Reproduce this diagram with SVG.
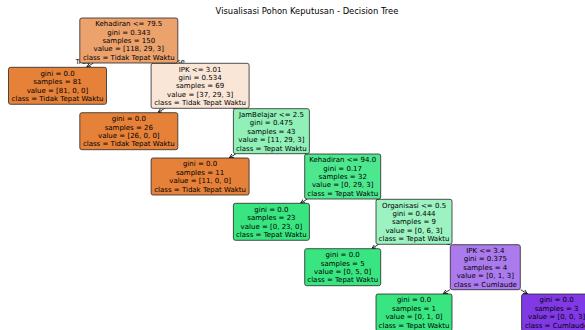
<svg xmlns="http://www.w3.org/2000/svg" width="585" height="330" viewBox="0 0 585 330">
<defs>
<marker id="ah" viewBox="0 0 10 10" refX="10" refY="5" markerWidth="4.5" markerHeight="4.5" markerUnits="userSpaceOnUse" orient="auto">
<path d="M0,0.5 L10,5 L0,9.5" fill="none" stroke="#000" stroke-width="1.8"/>
</marker>
<style>
text{font-family:"DejaVu Sans","Liberation Sans",sans-serif;fill:#000}
.t{font-size:7px;text-anchor:middle}
.title{font-size:8.4px;text-anchor:middle}
.lbl{font-size:7px;text-anchor:middle}
rect.n{stroke:#262626;stroke-width:0.8}
.o{fill:#e58139}.g{fill:#39e581}.p{fill:#8139e5}
.edges line{stroke:#000;stroke-width:0.8;marker-end:url(#ah)}
</style>
</defs>
<rect width="585" height="330" fill="#fff"/>
<text class="title" x="307" y="14">Visualisasi Pohon Keputusan - Decision Tree</text>
<g id="edge-labels">
<text class="lbl" x="83" y="64.3">True</text>
<text class="lbl" x="176.1" y="63.6">False</text>
</g>
<g class="edges" id="connectors">
<line x1="93.4" y1="63" x2="86.6" y2="67.3"/>
<line x1="164.2" y1="63" x2="164.7" y2="63.4"/>
<line x1="164.7" y1="108.3" x2="157.9" y2="112.7"/>
<line x1="235.5" y1="108.3" x2="236" y2="108.7"/>
<line x1="236" y1="153.7" x2="229.2" y2="158"/>
<line x1="306.8" y1="153.7" x2="307.3" y2="154.1"/>
<line x1="307.3" y1="199" x2="300.5" y2="203.3"/>
<line x1="378.1" y1="199" x2="378.6" y2="199.4"/>
<line x1="378.6" y1="244.3" x2="371.8" y2="248.7"/>
<line x1="449.4" y1="244.3" x2="449.9" y2="244.7"/>
<line x1="449.9" y1="289.7" x2="443.1" y2="294"/>
<line x1="520.7" y1="289.7" x2="527.5" y2="294"/>
</g>
<g id="node-12">
<rect class="n p" x="521.6" y="294" width="70" height="37" rx="2"/>
<text class="t"><tspan x="556.6" y="302.4">gini = 0.0</tspan><tspan x="556.6" y="310.8">samples = 3</tspan><tspan x="556.6" y="319.2">value = [0, 0, 3]</tspan><tspan x="556.6" y="327.6">class = Cumlaude</tspan></text>
</g>
<g id="node-11">
<rect class="n g" x="376" y="294" width="76" height="37" rx="2"/>
<text class="t"><tspan x="414" y="302.4">gini = 0.0</tspan><tspan x="414" y="310.8">samples = 1</tspan><tspan x="414" y="319.2">value = [0, 1, 0]</tspan><tspan x="414" y="327.6">class = Tepat Waktu</tspan></text>
</g>
<g id="node-10">
<rect class="n" fill="#ab7bee" x="450.3" y="244.7" width="70" height="45" rx="2"/>
<text class="t"><tspan x="485.3" y="252.9">IPK &lt;= 3.4</tspan><tspan x="485.3" y="261.3">gini = 0.375</tspan><tspan x="485.3" y="269.7">samples = 4</tspan><tspan x="485.3" y="278.1">value = [0, 1, 3]</tspan><tspan x="485.3" y="286.5">class = Cumlaude</tspan></text>
</g>
<g id="node-9">
<rect class="n g" x="304.7" y="248.7" width="76" height="37" rx="2"/>
<text class="t"><tspan x="342.7" y="257.1">gini = 0.0</tspan><tspan x="342.7" y="265.5">samples = 5</tspan><tspan x="342.7" y="273.9">value = [0, 5, 0]</tspan><tspan x="342.7" y="282.3">class = Tepat Waktu</tspan></text>
</g>
<g id="node-8">
<rect class="n" fill="#9cf2c0" x="376" y="199.3" width="76" height="45" rx="2"/>
<text class="t"><tspan x="414" y="207.5">Organisasi &lt;= 0.5</tspan><tspan x="414" y="215.9">gini = 0.444</tspan><tspan x="414" y="224.3">samples = 9</tspan><tspan x="414" y="232.7">value = [0, 6, 3]</tspan><tspan x="414" y="241.1">class = Tepat Waktu</tspan></text>
</g>
<g id="node-7">
<rect class="n g" x="233.4" y="203.3" width="76" height="37" rx="2"/>
<text class="t"><tspan x="271.4" y="211.7">gini = 0.0</tspan><tspan x="271.4" y="220.1">samples = 23</tspan><tspan x="271.4" y="228.5">value = [0, 23, 0]</tspan><tspan x="271.4" y="236.9">class = Tepat Waktu</tspan></text>
</g>
<g id="node-6">
<rect class="n" fill="#4de88e" x="304.7" y="154" width="76" height="45" rx="2"/>
<text class="t"><tspan x="342.7" y="162.2">Kehadiran &lt;= 94.0</tspan><tspan x="342.7" y="170.6">gini = 0.17</tspan><tspan x="342.7" y="179">samples = 32</tspan><tspan x="342.7" y="187.4">value = [0, 29, 3]</tspan><tspan x="342.7" y="195.8">class = Tepat Waktu</tspan></text>
</g>
<g id="node-5">
<rect class="n o" x="151.1" y="158" width="98" height="37" rx="2"/>
<text class="t"><tspan x="200.1" y="166.4">gini = 0.0</tspan><tspan x="200.1" y="174.8">samples = 11</tspan><tspan x="200.1" y="183.2">value = [11, 0, 0]</tspan><tspan x="200.1" y="191.6">class = Tidak Tepat Waktu</tspan></text>
</g>
<g id="node-4">
<rect class="n" fill="#90f0b8" x="233.4" y="108.7" width="76" height="45" rx="2"/>
<text class="t"><tspan x="271.4" y="116.9">JamBelajar &lt;= 2.5</tspan><tspan x="271.4" y="125.3">gini = 0.475</tspan><tspan x="271.4" y="133.7">samples = 43</tspan><tspan x="271.4" y="142.1">value = [11, 29, 3]</tspan><tspan x="271.4" y="150.5">class = Tepat Waktu</tspan></text>
</g>
<g id="node-3">
<rect class="n o" x="79.8" y="112.7" width="98" height="37" rx="2"/>
<text class="t"><tspan x="128.8" y="121.1">gini = 0.0</tspan><tspan x="128.8" y="129.5">samples = 26</tspan><tspan x="128.8" y="137.9">value = [26, 0, 0]</tspan><tspan x="128.8" y="146.3">class = Tidak Tepat Waktu</tspan></text>
</g>
<g id="node-2">
<rect class="n" fill="#fae6d7" x="151.1" y="63.3" width="98" height="45" rx="2"/>
<text class="t"><tspan x="200.1" y="71.5">IPK &lt;= 3.01</tspan><tspan x="200.1" y="79.9">gini = 0.534</tspan><tspan x="200.1" y="88.3">samples = 69</tspan><tspan x="200.1" y="96.7">value = [37, 29, 3]</tspan><tspan x="200.1" y="105.1">class = Tidak Tepat Waktu</tspan></text>
</g>
<g id="node-1">
<rect class="n o" x="8.5" y="67.3" width="98" height="37" rx="2"/>
<text class="t"><tspan x="57.5" y="75.7">gini = 0.0</tspan><tspan x="57.5" y="84.1">samples = 81</tspan><tspan x="57.5" y="92.5">value = [81, 0, 0]</tspan><tspan x="57.5" y="100.9">class = Tidak Tepat Waktu</tspan></text>
</g>
<g id="node-0">
<rect class="n" fill="#eca26d" x="79.8" y="18" width="98" height="45" rx="2"/>
<text class="t"><tspan x="128.8" y="26.2">Kehadiran &lt;= 79.5</tspan><tspan x="128.8" y="34.6">gini = 0.343</tspan><tspan x="128.8" y="43">samples = 150</tspan><tspan x="128.8" y="51.4">value = [118, 29, 3]</tspan><tspan x="128.8" y="59.8">class = Tidak Tepat Waktu</tspan></text>
</g>
</svg>
